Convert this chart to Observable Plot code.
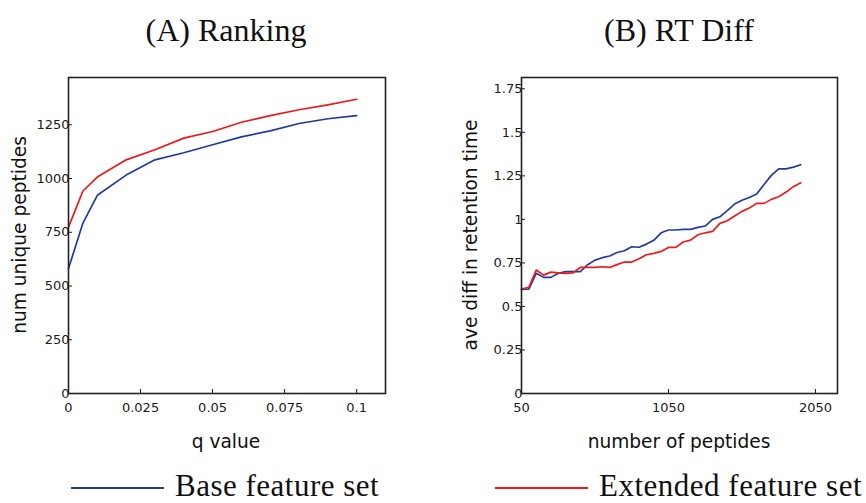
<!DOCTYPE html>
<html>
<head>
<meta charset="utf-8">
<script src="https://cdn.jsdelivr.net/npm/d3@7"></script>
<script src="https://cdn.jsdelivr.net/npm/@observablehq/plot@0.6"></script>
<style>
  html, body { margin: 0; padding: 0; background: #fff; }
  #wrap { position: relative; width: 866px; height: 503px; overflow: hidden; background: #fff; }
  #wrap > * { position: absolute; }
</style>
</head>
<body>
<div id="wrap"></div>
<script>
// ---- Panel A: Ranking ----
const qValues = [0, 0.005, 0.01, 0.02, 0.03, 0.04, 0.05, 0.06, 0.07, 0.08, 0.09, 0.1];
const rankBase = [581, 793, 922, 1016, 1087, 1120, 1157, 1194, 1222, 1256, 1278, 1293];
const rankExtended = [774, 942, 1007, 1087, 1134, 1188, 1219, 1262, 1293, 1320, 1343, 1369];
const rankXTicks = [0, 0.025, 0.05, 0.075, 0.1];
const rankYTicks = [0, 250, 500, 750, 1000, 1250];

// ---- Panel B: RT Diff ----
const numPeptides = [50, 100, 150, 200, 250, 300, 350, 400, 450, 500, 550, 600, 650, 700, 750, 800, 850, 900, 950, 1000,
  1050, 1100, 1150, 1200, 1250, 1300, 1350, 1400, 1450, 1500, 1550, 1600, 1650, 1700, 1750, 1800, 1850, 1900, 1950];
const rtBase = [0.598, 0.60, 0.69, 0.667, 0.667, 0.69, 0.70, 0.70, 0.70, 0.74, 0.766, 0.78, 0.79, 0.81, 0.82, 0.843, 0.84, 0.858, 0.88, 0.923,
  0.939, 0.939, 0.943, 0.943, 0.954, 0.962, 1.0, 1.015, 1.05, 1.088, 1.11, 1.126, 1.146, 1.2, 1.253, 1.29, 1.29, 1.30, 1.314];
const rtExtended = [0.60, 0.61, 0.709, 0.68, 0.697, 0.693, 0.69, 0.693, 0.724, 0.724, 0.724, 0.728, 0.724, 0.74, 0.755, 0.755, 0.774, 0.797, 0.805, 0.816,
  0.839, 0.839, 0.87, 0.881, 0.912, 0.923, 0.931, 0.977, 0.992, 1.019, 1.046, 1.065, 1.092, 1.092, 1.115, 1.13, 1.157, 1.188, 1.21];
const rtXTicks = [50, 1050, 2050];
const rtYTicks = [0, 0.25, 0.5, 0.75, 1, 1.25, 1.5, 1.75];

const seriesNames = ["Base feature set", "Extended feature set"];
const seriesColors = ["#1f3b9e", "#f01818"];

function toRows(xs, ys, name) { return xs.map((x, i) => ({x, y: ys[i], series: name})); }
const rankRows = [...toRows(qValues, rankBase, seriesNames[0]), ...toRows(qValues, rankExtended, seriesNames[1])];
const rtRows = [...toRows(numPeptides, rtBase, seriesNames[0]), ...toRows(numPeptides, rtExtended, seriesNames[1])];

const tickStyle = {fontFamily: "DejaVu Sans", fontSize: "13px", color: "#1a1a1a", background: "transparent", overflow: "visible"};

function panel(rows, xDomain, yDomain, xTicks, yTicks, mL, mR, w) {
  return Plot.plot({
    width: w, height: 400,
    marginLeft: mL, marginRight: mR, marginTop: 17, marginBottom: 67,
    style: tickStyle,
    x: {domain: xDomain},
    y: {domain: yDomain},
    color: {domain: seriesNames, range: seriesColors},
    marks: [
      Plot.line(rows, {x: "x", y: "y", stroke: "series", z: "series", strokeWidth: 1.7}),
      Plot.axisX({ticks: xTicks, tickFormat: d => String(d), tickSize: -4, tickPadding: 13, label: null}),
      Plot.axisY({ticks: yTicks, tickFormat: d => String(d), tickSize: -4, tickPadding: 3, label: null}),
      Plot.frame({stroke: "#222", strokeWidth: 1.6})
    ]
  });
}

const wrap = document.getElementById("wrap");
const pA = panel(rankRows, [0, 0.11], [0, 1470], rankXTicks, rankYTicks, 68, 15, 400);
pA.style.left = "0px"; pA.style.top = "60px";
wrap.appendChild(pA);
const pB = panel(rtRows, [50, 2200], [0, 1.815], rtXTicks, rtYTicks, 88, 29, 433);
pB.style.left = "433px"; pB.style.top = "60px";
wrap.appendChild(pB);

// Overlay for titles, axis labels and legend
const svg = d3.select(wrap).append("svg")
  .attr("width", 866).attr("height", 503)
  .style("left", "0px").style("top", "0px").style("pointer-events", "none");

const serif = "Liberation Serif, Times New Roman, serif";
const sans = "DejaVu Sans, sans-serif";
const titles = [{t: "(A) Ranking", x: 226}, {t: "(B) RT Diff", x: 679}];
svg.selectAll("text.title").data(titles).join("text")
  .attr("x", d => d.x).attr("y", 41).attr("text-anchor", "middle")
  .style("font-family", serif).style("font-size", "32px").attr("fill", "#111")
  .text(d => d.t);

const xLabels = [{t: "q value", x: 226}, {t: "number of peptides", x: 679}];
svg.selectAll("text.xl").data(xLabels).join("text")
  .attr("x", d => d.x).attr("y", 448).attr("text-anchor", "middle")
  .style("font-family", sans).style("font-size", "18.6px").attr("fill", "#111")
  .text(d => d.t);

const yLabels = [{t: "num unique peptides", x: 26, y: 235}, {t: "ave diff in retention time", x: 477, y: 235}];
svg.selectAll("text.yl").data(yLabels).join("text")
  .attr("transform", d => `translate(${d.x},${d.y}) rotate(-90)`).attr("text-anchor", "middle")
  .style("font-family", sans).style("font-size", "18.6px").attr("fill", "#111")
  .text(d => d.t);

const legend = [{t: seriesNames[0], c: seriesColors[0], x: 71}, {t: seriesNames[1], c: seriesColors[1], x: 495}];
const lg = svg.selectAll("g.lg").data(legend).join("g").attr("transform", d => `translate(${d.x},0)`);
lg.append("line").attr("x1", 0).attr("x2", 93).attr("y1", 488).attr("y2", 488)
  .attr("stroke", d => d.c).attr("stroke-width", 2.2);
lg.append("text").attr("x", 104).attr("y", 496)
  .style("font-family", serif).style("font-size", "31px").style("letter-spacing", "0.5px").attr("fill", "#111")
  .text(d => d.t);
</script>
</body>
</html>
